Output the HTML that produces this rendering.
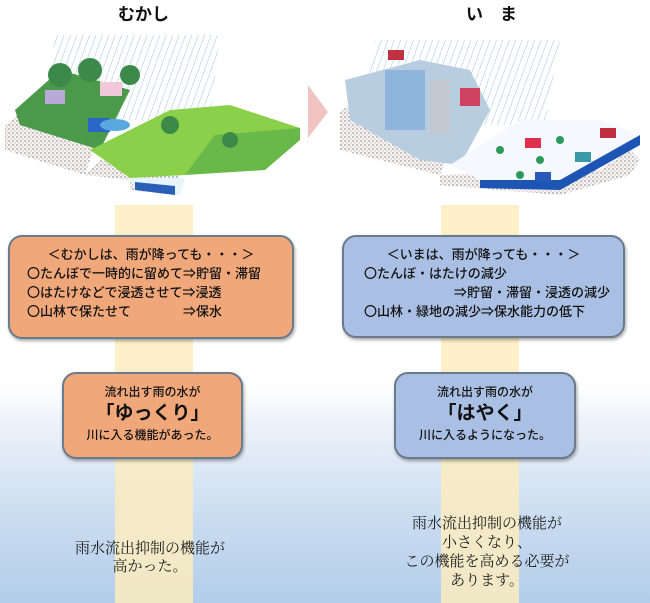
<!DOCTYPE html>
<html><head><meta charset="utf-8"><style>
body{margin:0;width:650px;height:603px;overflow:hidden;position:relative;font-family:"Liberation Sans","Noto Sans CJK JP",sans-serif;
background:linear-gradient(to bottom,#fff 0,#fff 385px,#eef3fa 420px,#c9dcf0 520px,#b3cdea 603px);}
.band{position:absolute;top:205px;width:78px;height:398px;background:#fbecc0;opacity:.85}
.box{position:absolute;border:2px solid #6a7b8c;border-radius:14px;box-shadow:1px 2px 3px rgba(0,0,0,.35);color:#111;font-size:13px;line-height:19px;font-weight:500}
.o{background:#f0a77a}.b{background:#a9bfe3}
.t{position:absolute;font-weight:bold;font-size:17px;color:#111}
.s{position:absolute;font-family:"Liberation Serif","Noto Serif CJK SC",serif;font-size:15px;line-height:18px;text-align:center;color:#222}
</style></head><body>
<div class="band" style="left:115px"></div>
<div class="band" style="left:441px"></div>
<div class="t" style="left:118px;top:0px">むかし</div>
<div class="t" style="left:466px;top:0px">い　ま</div>
<svg width="650" height="205" style="position:absolute;left:0;top:0">
<defs><pattern id="r" width="6" height="6" patternUnits="userSpaceOnUse" patternTransform="rotate(20)"><line x1="0" y1="0" x2="0" y2="6" stroke="#9cc6dc" stroke-width="1"/></pattern>
<pattern id="d" width="4" height="4" patternUnits="userSpaceOnUse"><rect width="4" height="4" fill="#f4f4f4"/><circle cx="1" cy="1" r=".7" fill="#777"/><circle cx="3" cy="3" r=".5" fill="#c66"/></pattern></defs>
<polygon points="55,35 220,35 210,120 45,120" fill="url(#r)"/>
<polygon points="5,125 50,90 100,130 85,175 5,150" fill="url(#d)"/>
<polygon points="85,175 130,180 130,190 175,195 180,175 100,160" fill="url(#d)"/>
<polygon points="15,110 60,70 130,90 100,150 20,125" fill="#4a9a4a"/>
<polygon points="90,150 170,110 230,105 300,128 270,155 185,175 130,178" fill="#8bd04a"/>
<polygon points="185,175 215,135 300,128 300,140 265,170" fill="#69b84a"/>
<polygon points="130,178 185,178 180,195 135,190" fill="#e8f4fb"/>
<polygon points="135,182 175,186 175,195 135,190" fill="#2a5fb8"/>
<circle cx="60" cy="75" r="12" fill="#3c8a4a"/><circle cx="90" cy="70" r="12" fill="#3c8a4a"/><circle cx="130" cy="75" r="10" fill="#3c8a4a"/><circle cx="170" cy="125" r="9" fill="#3c8a4a"/><circle cx="230" cy="140" r="8" fill="#3c8a4a"/>
<rect x="45" y="90" width="20" height="14" fill="#b9a8d8"/><rect x="100" y="82" width="22" height="14" fill="#f0c8d8"/><rect x="88" y="118" width="22" height="14" fill="#2a66c8"/>
<ellipse cx="115" cy="125" rx="15" ry="6" fill="#5aa8e0"/>
<polygon points="308,85 328,112 308,138" fill="#f2c3c3"/>
<polygon points="375,40 560,40 545,125 360,125" fill="url(#r)"/>
<polygon points="340,110 380,95 450,150 440,175 340,150" fill="url(#d)"/>
<polygon points="440,175 600,170 630,150 640,160 630,175 560,195 440,185" fill="url(#d)"/>
<polygon points="345,80 420,60 470,70 490,110 460,165 420,160 350,120" fill="#b9cde0"/>
<rect x="385" y="70" width="40" height="60" fill="#8fb4dc"/><rect x="430" y="80" width="20" height="55" fill="#c4c8d2"/>
<polygon points="450,165 520,120 600,120 640,135 560,180 480,180" fill="#f5f8fc"/>
<polygon points="480,180 560,180 640,135 640,145 560,190 480,188" fill="#1d55b5"/>
<rect x="460" y="88" width="20" height="18" fill="#d04060"/><rect x="525" y="138" width="16" height="10" fill="#e03050"/><rect x="600" y="128" width="16" height="10" fill="#c03040"/><rect x="575" y="152" width="16" height="10" fill="#3a9aa8"/><rect x="535" y="172" width="16" height="10" fill="#2a5ab8"/><rect x="388" y="50" width="16" height="10" fill="#c03040"/>
<circle cx="500" cy="150" r="4" fill="#2e9a5a"/><circle cx="560" cy="140" r="4" fill="#2e9a5a"/><circle cx="540" cy="160" r="4" fill="#2e9a5a"/><circle cx="520" cy="175" r="4" fill="#2e9a5a"/>
</svg>
<div class="box o" style="left:8px;top:235px;width:282px;height:100px">
<div style="text-align:center;margin-top:8px">＜むかしは、雨が降っても・・・＞</div>
<div style="padding-left:17px">〇たんぼで一時的に留めて⇒貯留・滞留<br>〇はたけなどで浸透させて⇒浸透<br>〇山林で保たせて　　　　⇒保水</div></div>
<div class="box b" style="left:342px;top:235px;width:279px;height:99px">
<div style="text-align:center;margin-top:8px">＜いまは、雨が降っても・・・＞</div>
<div style="padding-left:20px">〇たんぼ・はたけの減少<br><span style="padding-left:90px">⇒貯留・滞留・浸透の減少</span><br>〇山林・緑地の減少⇒保水能力の低下</div></div>
<div class="box o" style="left:62px;top:372px;width:177px;height:83px;text-align:center;font-size:12px">
<div style="margin-top:9px">流れ出す雨の水が</div><div style="font-size:19px;line-height:24px;font-weight:bold">「ゆっくり」</div><div>川に入る機能があった。</div></div>
<div class="box b" style="left:394px;top:372px;width:178px;height:83px;text-align:center;font-size:12px">
<div style="margin-top:9px">流れ出す雨の水が</div><div style="font-size:19px;line-height:24px;font-weight:bold">「はやく」</div><div>川に入るようになった。</div></div>
<div class="s" style="left:40px;width:220px;top:540px">雨水流出抑制の機能が<br>高かった。</div>
<div class="s" style="left:377px;width:220px;top:515px;line-height:19px">雨水流出抑制の機能が<br>小さくなり、<br>この機能を高める必要が<br>あります。</div>
</body></html>
